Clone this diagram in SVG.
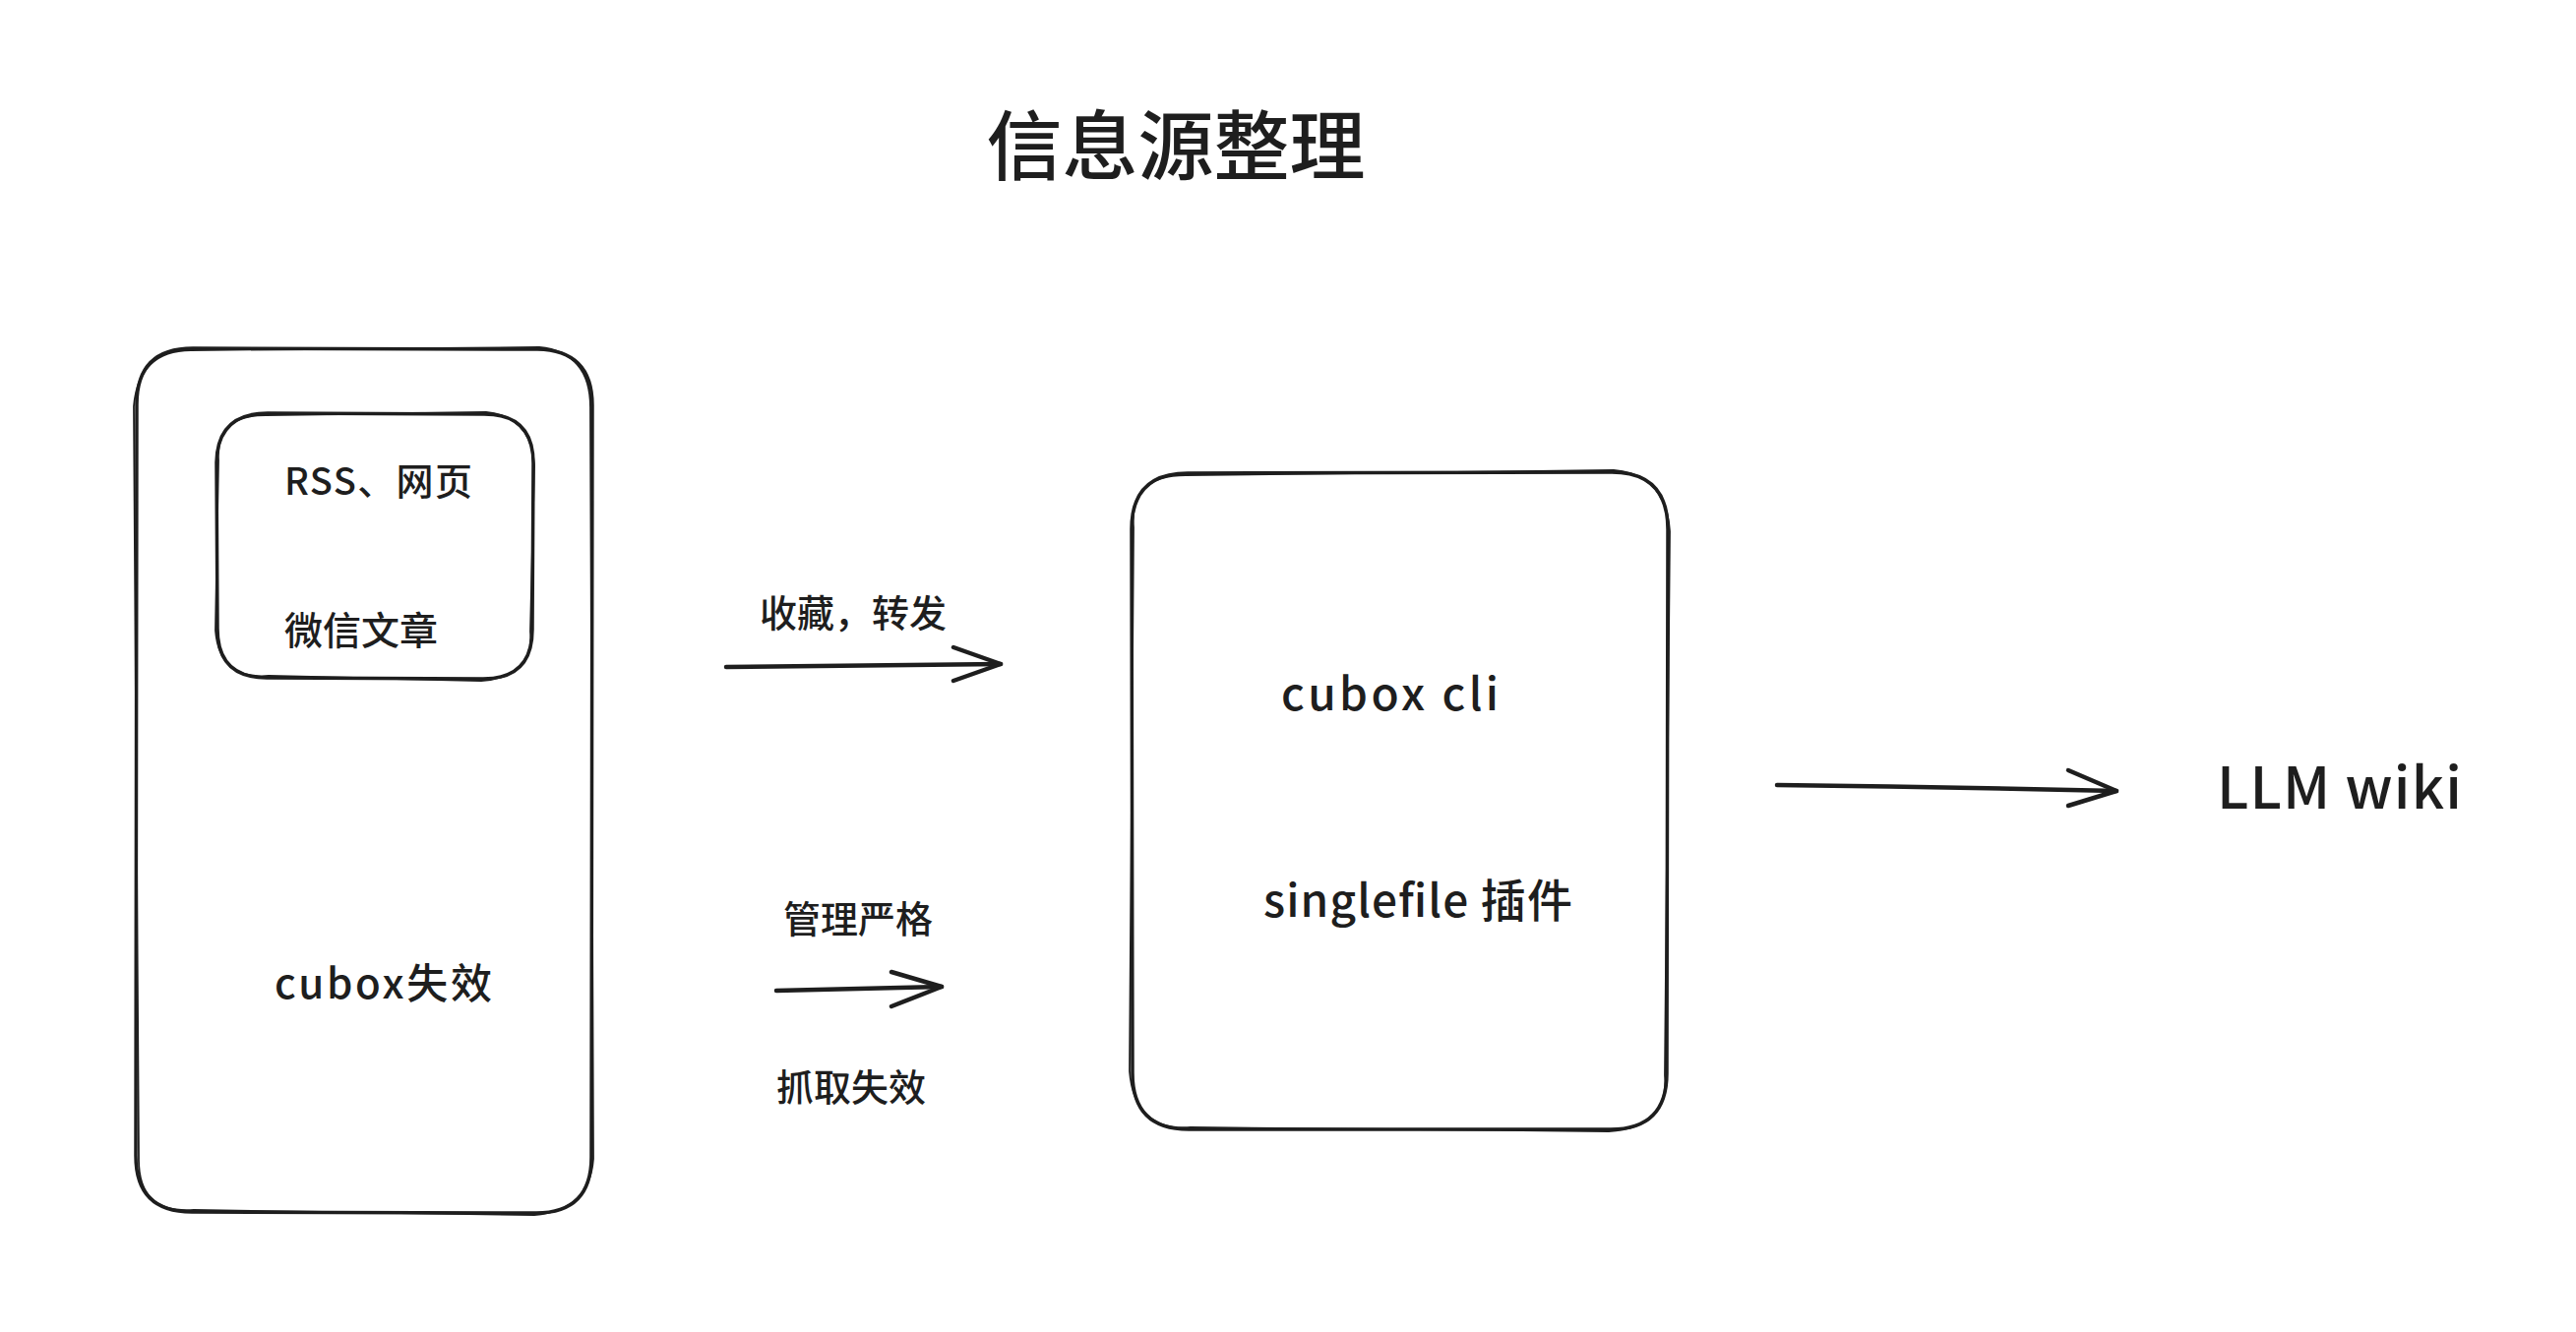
<svg xmlns="http://www.w3.org/2000/svg" width="2618" height="1354" viewBox="0 0 2618 1354">
<style>
.bg{fill:#ffffff}
.box{fill:none;stroke:#1e1e1e;stroke-width:3.5;stroke-linecap:round;stroke-linejoin:round}
.box2{fill:none;stroke:#1e1e1e;stroke-width:1.8;stroke-linecap:round;stroke-linejoin:round}
.edge{fill:none;stroke:#1e1e1e;stroke-width:4.5;stroke-linecap:round;stroke-linejoin:round}
.t{font-family:"Noto Sans CJK SC","Noto Sans",sans-serif;fill:#1e1e1e;font-size:38px;font-weight:500}
.tl{font-size:46px}
.title{font-family:"Noto Sans CJK SC","Noto Sans",sans-serif;fill:#1e1e1e;font-size:77px;font-weight:500}
</style>
<rect class="bg" x="0" y="0" width="2618" height="1354"/>
<g id="title">
<text class="title" x="1195" y="177" text-anchor="middle">信息源整理</text>
</g>
<g id="source-box">
<path class="box" d="M196 354 L546 355 Q602 356 602 412 L601 1176 Q601 1233 545 1233 L195 1232 Q138 1232 138 1175 L139 411 Q139 354 196 354 Z"/>
<path class="box2" d="M194 356 L548 353 Q600 358 600 414 L603 1178 Q599 1231 543 1235 L197 1230 Q140 1234 141 1177 L136 413 Q141 356 194 356 Z"/>
<text class="t" x="279" y="1015" style="font-size:42px" textLength="221">cubox失效</text>
</g>
<g id="inner-box">
<path class="box" d="M272 420 L492 421 Q542 421 542 471 L541 640 Q541 690 491 690 L271 689 Q221 689 221 639 L220 470 Q221 420 272 420 Z"/>
<path class="box2" d="M270 422 L494 419 Q540 423 543 473 L539 642 Q543 688 489 692 L273 687 Q223 691 219 641 L222 468 Q219 422 270 422 Z"/>
<text class="t" x="289" y="503" textLength="191">RSS、网页</text>
<text class="t" x="289" y="655" style="font-size:39px">微信文章</text>
</g>
<g id="cubox-box">
<path class="box" d="M1207 481 L1638 480 Q1695 480 1695 538 L1694 1091 Q1694 1148 1637 1148 L1208 1148 Q1151 1148 1151 1091 L1150 538 Q1150 481 1207 481 Z"/>
<path class="box2" d="M1205 483 L1640 478 Q1693 482 1697 540 L1692 1093 Q1696 1146 1635 1150 L1210 1146 Q1153 1150 1148 1089 L1152 536 Q1148 483 1205 483 Z"/>
<text class="t tl" x="1302" y="722" textLength="221">cubox cli</text>
<text class="t tl" x="1284" y="932" textLength="314">singlefile 插件</text>
</g>
<g id="llm-wiki">
<text class="t" x="2253" y="822" style="font-size:58px" textLength="249">LLM wiki</text>
</g>
<g id="connectors">
<path class="edge" d="M738 678 Q880 676 1017 675"/>
<path class="edge" d="M969 658 L1017 675 L969 692"/>
<text class="t" x="772" y="637">收藏，转发</text>
<path class="edge" d="M789 1007 Q870 1005 957 1003"/>
<path class="edge" d="M906 988 L957 1003 L906 1023"/>
<text class="t" x="796" y="948">管理严格</text>
<text class="t" x="789" y="1119">抓取失效</text>
<path class="edge" d="M1806 798 Q1980 800 2151 804"/>
<path class="edge" d="M2102 783 L2151 804 L2102 819"/>
</g>
</svg>
